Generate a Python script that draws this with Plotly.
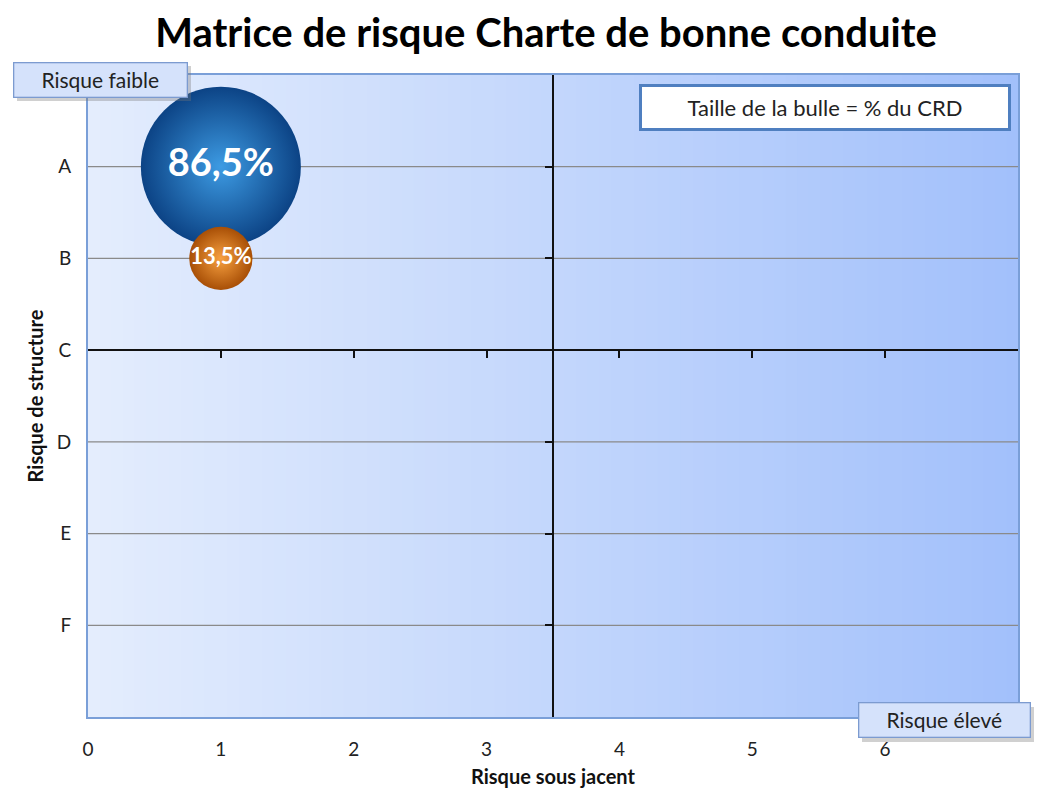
import plotly.graph_objects as go

# ---- data ----
categories = ["A", "B", "C", "D", "E", "F"]
x_ticks = [0, 1, 2, 3, 4, 5, 6]
bubble_x = [1, 1]
bubble_y = ["A", "B"]
bubble_pct = [86.5, 13.5]
bubble_edges = ["#0c4385", "#a84f06"]
bubble_centers = ["#3d9be3", "#f7a040"]

cat_pos = {c: i + 1 for i, c in enumerate(categories)}
y_num = [cat_pos[c] for c in bubble_y]
labels = [f"{v:.1f}%".replace(".", ",") for v in bubble_pct]

FONT = "Lato"
fig = go.Figure()

# dummy trace to activate overlay axes (drawn first)
fig.add_trace(go.Scatter(x=[None], y=[None], xaxis="x2", yaxis="y2",
                         showlegend=False, hoverinfo="skip"))

for i in range(len(bubble_pct)):
    fig.add_trace(go.Scatter(
        x=[bubble_x[i]], y=[y_num[i]], mode="markers+text",
        text=[labels[i]], texttemplate="<b>%{text}</b>", textposition="middle center",
        textfont=dict(family=FONT, size=38 if i == 0 else 22, color="white"),
        marker=dict(size=[bubble_pct[i]], sizemode="area",
                    sizeref=2 * 86.5 / (160 ** 2), color=bubble_edges[i],
                    gradient=dict(type="radial", color=bubble_centers[i]),
                    line=dict(width=0), opacity=1),
        showlegend=False, hoverinfo="skip", cliponaxis=False,
    ))

# background gradient strips
def lerp(c1, c2, t):
    a = [int(c1[k:k + 2], 16) for k in (1, 3, 5)]
    b = [int(c2[k:k + 2], 16) for k in (1, 3, 5)]
    return "rgb(%d,%d,%d)" % tuple(round(a[j] + (b[j] - a[j]) * t) for j in range(3))

N = 80
for k in range(N):
    t0, t1 = k / N, (k + 1) / N
    fig.add_shape(type="rect", xref="x domain", yref="y domain",
                  x0=t0, x1=t1 + 0.002, y0=0, y1=1, layer="below",
                  line=dict(width=0), fillcolor=lerp("#e4edfd", "#a2c0fb", (t0 + t1) / 2))

# horizontal gridlines
for c in categories:
    if c == "C":
        continue
    fig.add_shape(type="line", xref="x domain", yref="y", x0=0, x1=1,
                  y0=cat_pos[c], y1=cat_pos[c], layer="below",
                  line=dict(color="#8a8a8a", width=1.3))

fig.update_layout(
    width=1041, height=791,
    margin=dict(l=88, r=23, t=75, b=74),
    paper_bgcolor="white", plot_bgcolor="rgba(0,0,0,0)",
    title=dict(text="<b>Matrice de risque Charte de bonne conduite</b>",
               x=0.5245, xanchor="center", y=1 - 33 / 791, yanchor="middle",
               font=dict(family=FONT, size=40, color="black")),
    font=dict(family=FONT, color="#222"),
    xaxis=dict(range=[0, 7], tickvals=x_ticks, showgrid=False, zeroline=False,
               showline=True, linecolor="#7a9fd8", linewidth=2, mirror=True,
               ticks="outside", ticklen=14, tickcolor="rgba(0,0,0,0)",
               tickfont=dict(size=19, color="#222"), automargin=False,
               title=dict(text="<b>Risque sous jacent</b>", standoff=11,
                          font=dict(size=20, color="#111"))),
    yaxis=dict(range=[7, 0], tickvals=[cat_pos[c] for c in categories],
               ticktext=categories, showgrid=False, zeroline=False,
               showline=True, linecolor="#7a9fd8", linewidth=2, mirror=True,
               ticks="outside", ticklen=11, tickcolor="rgba(0,0,0,0)",
               tickfont=dict(size=19, color="#222"), automargin=False,
               title=dict(text="<b>Risque de structure</b>", standoff=8,
                          font=dict(size=20, color="#111"))),
    xaxis2=dict(overlaying="x", anchor="free", position=(7 - cat_pos["C"]) / 7,
                range=[0, 7], tickvals=x_ticks[1:], showticklabels=False,
                showgrid=False, zeroline=False, showline=True, linecolor="#111",
                linewidth=2, ticks="outside", ticklen=7, tickwidth=2, tickcolor="#111"),
    yaxis2=dict(overlaying="y", anchor="free", position=3.5 / 7,
                range=[7, 0], tickvals=[cat_pos[c] for c in categories],
                showticklabels=False, showgrid=False, zeroline=False,
                showline=True, linecolor="#111", linewidth=2, ticks="outside",
                ticklen=7, tickwidth=2, tickcolor="#111"),
)

def box(text, cx, cy, w, h, bg, border, bw, size, shadow=True):
    if shadow:
        fig.add_annotation(xref="paper", yref="paper", x=cx + 4 / 930, y=cy - 4 / 642,
                           xanchor="center", yanchor="middle",
                           text=" ", showarrow=False, width=w, height=h,
                           bgcolor="rgba(120,120,120,0.35)", borderwidth=0)
    fig.add_annotation(xref="paper", yref="paper", x=cx, y=cy, text=text,
                       xanchor="center", yanchor="middle",
                       showarrow=False, width=w, height=h, bgcolor=bg,
                       bordercolor=border, borderwidth=bw, borderpad=0,
                       font=dict(family=FONT, size=size, color="#222"))

box("Risque faible", (100 - 88) / 930, (717 - 80) / 642, 172, 33, "#d5e2fb", "#7c9bd0", 1.3, 21)
box("Risque élevé", (944 - 88) / 930, (717 - 720) / 642, 170, 33, "#d5e2fb", "#7c9bd0", 1.3, 21)
box("Taille de la bulle = % du CRD", (825 - 88) / 930, (717 - 107.5) / 642, 366, 41,
    "white", "#4f7fc0", 3, 22, shadow=False)

fig.write_html("out.html", config={"displayModeBar": False},
               post_script="document.body.style.margin='0';")
